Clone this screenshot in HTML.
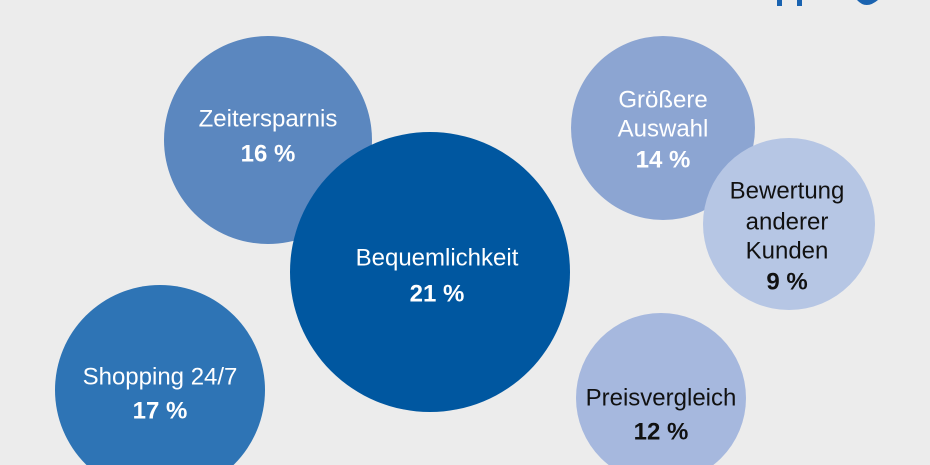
<!DOCTYPE html>
<html><head><meta charset="utf-8"><style>
html,body{margin:0;padding:0;background:#ececec;width:930px;height:465px;overflow:hidden;}
svg{display:block}
text{font-family:"Liberation Sans",sans-serif;font-size:24px;text-anchor:middle;dominant-baseline:central}
.b{font-weight:bold}
.w{fill:#fff}
.k{fill:#111}
</style></head><body>
<svg width="930" height="465" viewBox="0 0 930 465" xmlns="http://www.w3.org/2000/svg" overflow="hidden">
<rect width="930" height="465" fill="#ececec"/>
<rect x="777" y="0" width="5" height="6" fill="#1a63b0"/>
<rect x="797" y="0" width="5" height="6" fill="#1a63b0"/>
<path d="M857 0 Q866 10 878 0 Z" fill="#1a63b0"/>
<circle cx="268" cy="140" r="104" fill="#5b87bf"/>
<circle cx="430" cy="272" r="140" fill="#0057a0"/>
<circle cx="160" cy="390" r="105" fill="#2e74b5"/>
<circle cx="663" cy="128" r="92" fill="#8ca5d2"/>
<circle cx="789" cy="224" r="86" fill="#b6c6e4"/>
<circle cx="661" cy="398" r="85" fill="#a6b8de"/>
<text class="w" x="268" y="119">Zeitersparnis</text>
<text class="w b" x="268" y="154">16 %</text>
<text class="w" x="437" y="258">Bequemlichkeit</text>
<text class="w b" x="437" y="294">21 %</text>
<text class="w" x="160" y="377">Shopping 24/7</text>
<text class="w b" x="160" y="411">17 %</text>
<text class="w" x="663" y="100">Größere</text>
<text class="w" x="663" y="129">Auswahl</text>
<text class="w b" x="663" y="160">14 %</text>
<text class="k" x="787" y="191">Bewertung</text>
<text class="k" x="787" y="222">anderer</text>
<text class="k" x="787" y="251">Kunden</text>
<text class="k b" x="787" y="282">9 %</text>
<text class="k" x="661" y="398">Preisvergleich</text>
<text class="k b" x="661" y="432">12 %</text>
</svg>
</body></html>
